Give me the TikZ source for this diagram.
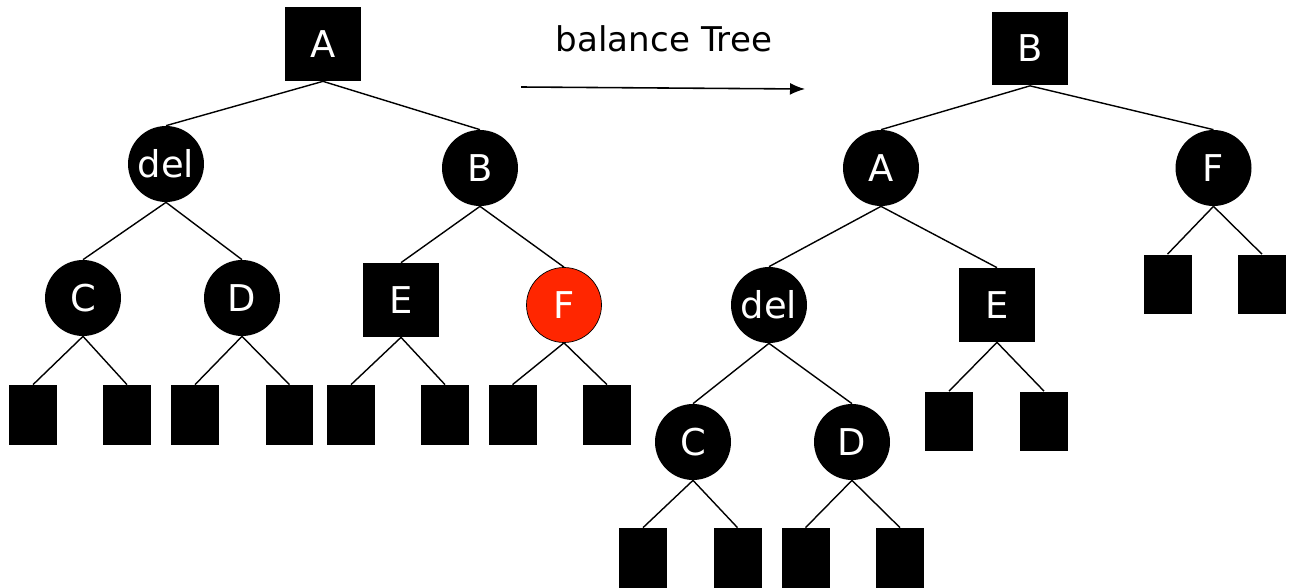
\documentclass[tikz,border=0pt]{standalone}
\usepackage{fontspec}
\setmainfont{DejaVu Sans}
\usepackage{xcolor}
\usepackage{tikz}
\usetikzlibrary{arrows.meta}
\definecolor{nodeRed}{RGB}{255,38,0}
\tikzstyle{tsLabel} = [ 
    text=white, 
    font=\fontsize{21}{25}\selectfont
]
\tikzstyle{tsCircle} = [ 
    circle,
    tsLabel,
    fill=black,
    inner sep=0pt,
    minimum size=1.52cm]
\tikzstyle{tsRedCircle} = [ 
    tsCircle,
    fill=nodeRed,
    draw=black,
    line width=0.4pt,
    minimum size=1.5cm]
\tikzstyle{tsSquare} = [ 
    rectangle,
    tsLabel,
    fill=black,
    inner sep=0pt,
    minimum width=1.52cm,
    minimum height=1.48cm]
\tikzstyle{tsLeaf} = [ 
    rectangle,
    fill=black,
    inner sep=0pt,
    minimum width=0.96cm,
    minimum height=1.2cm]
\tikzstyle{tsEdge} = [line width=0.8pt]

\begin{document}
\begin{tikzpicture}[x=0.02cm, y=-0.02cm]

        \useasboundingbox (0,0) rectangle (1295,588);

        % tree before
        \node[tsSquare] (lA) at (323,44) {A};
        \node[tsCircle] (lDel) at (166,164) {del};
        \node[tsCircle] (lB) at (480,168) {B};
        \node[tsCircle] (lC) at (83,298) {C};
        \node[tsCircle] (lD) at (242,298) {D};
        \node[tsSquare] (lE) at (401,300) {E};
        \node[tsRedCircle] (lF) at (564,305) {F};

        \node[tsLeaf] (lC1) at (33,415) {};
        \node[tsLeaf] (lC2) at (127,415) {};
        \node[tsLeaf] (lD1) at (195,415) {};
        \node[tsLeaf] (lD2) at (289.5,415) {};
        \node[tsLeaf] (lE1) at (351,415) {};
        \node[tsLeaf] (lE2) at (445,415) {};
        \node[tsLeaf] (lF1) at (512.5,415) {};
        \node[tsLeaf] (lF2) at (607,415) {};

        \draw[tsEdge] (lA.south) -- (lDel.north);
        \draw[tsEdge] (lA.south) -- (lB.north);
        \draw[tsEdge] (lDel.south) -- (lC.north);
        \draw[tsEdge] (lDel.south) -- (lD.north);
        \draw[tsEdge] (lB.south) -- (lE.north);
        \draw[tsEdge] (lB.south) -- (lF.north);
        \draw[tsEdge] (lC.south) -- (lC1.north);
        \draw[tsEdge] (lC.south) -- (lC2.north);
        \draw[tsEdge] (lD.south) -- (lD1.north);
        \draw[tsEdge] (lD.south) -- (lD2.north);
        \draw[tsEdge] (lE.south) -- (lE1.north);
        \draw[tsEdge] (lE.south) -- (lE2.north);
        \draw[tsEdge] (lF.south) -- (lF1.north);
        \draw[tsEdge] (lF.south) -- (lF2.north);

        % rotation arrow
        \node[font=\fontsize{19.4}{23}\selectfont] (caption) at (664,39) {balance Tree};
        \coordinate (arrowStart) at (521,87);
        \coordinate (arrowEnd) at (805,89);
        \draw[line width=0.9pt, -{Latex[length=0.3cm, width=0.24cm]}] (arrowStart) -- (arrowEnd);

        % tree after
        \node[tsSquare] (rB) at (1030,48.5) {B};
        \node[tsCircle] (rA) at (881,168) {A};
        \node[tsCircle] (rF) at (1213.5,168) {F};
        \node[tsCircle] (rDel) at (769,305) {del};
        \node[tsSquare] (rE) at (997,305) {E};
        \node[tsCircle] (rC) at (693,442) {C};
        \node[tsCircle] (rD) at (852,442) {D};

        \node[tsLeaf] (rF1) at (1167.5,284.5) {};
        \node[tsLeaf] (rF2) at (1262,284.5) {};
        \node[tsLeaf] (rE1) at (949,421.5) {};
        \node[tsLeaf] (rE2) at (1044,421.5) {};
        \node[tsLeaf] (rC1) at (643,558) {};
        \node[tsLeaf] (rC2) at (737.5,558) {};
        \node[tsLeaf] (rD1) at (805.5,558) {};
        \node[tsLeaf] (rD2) at (900,558) {};

        \draw[tsEdge] (rB.south) -- (rA.north);
        \draw[tsEdge] (rB.south) -- (rF.north);
        \draw[tsEdge] (rA.south) -- (rDel.north);
        \draw[tsEdge] (rA.south) -- (rE.north);
        \draw[tsEdge] (rF.south) -- (rF1.north);
        \draw[tsEdge] (rF.south) -- (rF2.north);
        \draw[tsEdge] (rE.south) -- (rE1.north);
        \draw[tsEdge] (rE.south) -- (rE2.north);
        \draw[tsEdge] (rDel.south) -- (rC.north);
        \draw[tsEdge] (rDel.south) -- (rD.north);
        \draw[tsEdge] (rC.south) -- (rC1.north);
        \draw[tsEdge] (rC.south) -- (rC2.north);
        \draw[tsEdge] (rD.south) -- (rD1.north);
        \draw[tsEdge] (rD.south) -- (rD2.north);

\end{tikzpicture}
\end{document}
